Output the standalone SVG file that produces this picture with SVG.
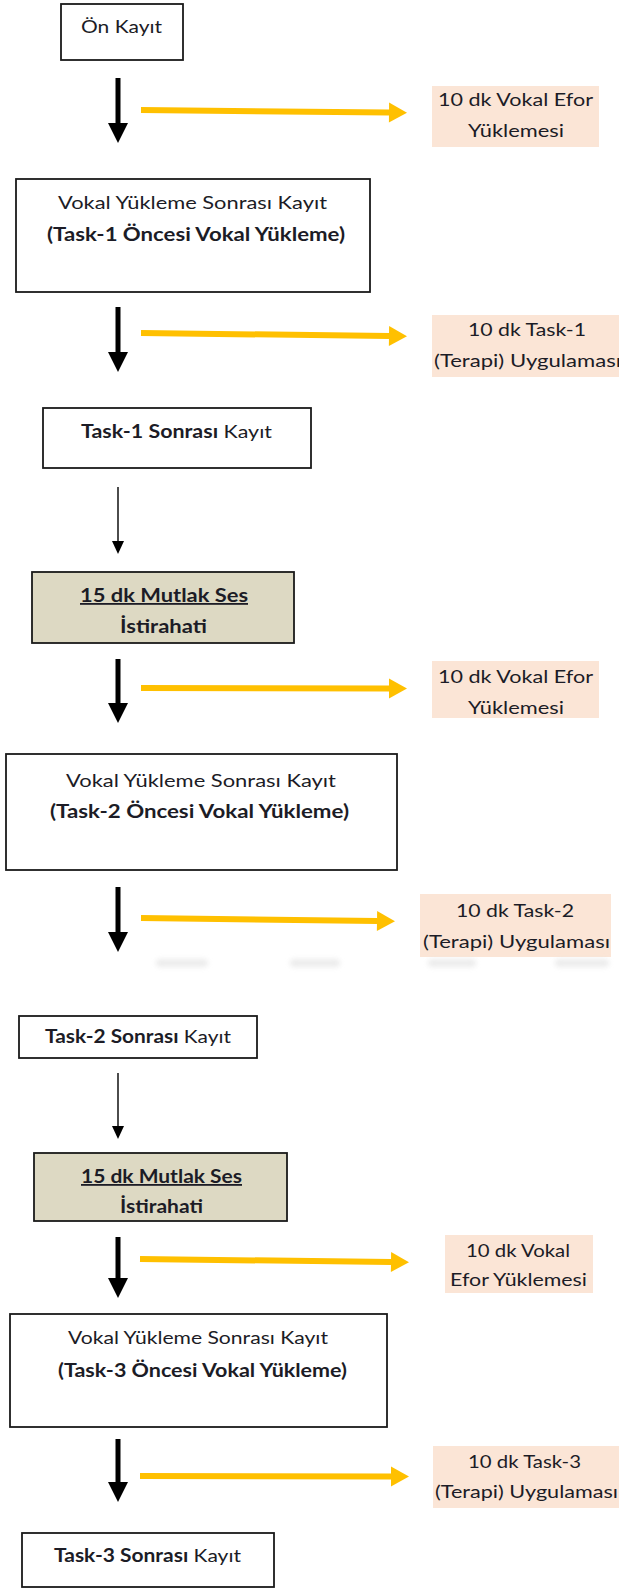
<svg xmlns="http://www.w3.org/2000/svg" width="619" height="1589" viewBox="0 0 619 1589">
<style>
  text { font-family: Lato, "Open Sans", "Liberation Sans", sans-serif; font-size: 18px; fill: #1c1c26; }
  .b { font-weight: bold; }
  .u { text-decoration: underline; }
  .box { fill: #ffffff; stroke: #1a1a1a; stroke-width: 1.8; }
  .rest { fill: #ddd9c3; stroke: #1a1a1a; stroke-width: 1.8; }
  .side { fill: #fbe5d6; stroke: none; }
  .thick { stroke: #000; stroke-width: 5; fill: none; marker-end: url(#hBig); }
  .thin { stroke: #000; stroke-width: 1.4; fill: none; marker-end: url(#hSmall); }
  .gold { stroke: #ffc000; stroke-width: 6; fill: none; marker-end: url(#hGold); }
  .smudge { fill: #e4e4e4; opacity: 0.7; filter: url(#soft); }
</style>
<defs>
  <marker id="hBig" markerUnits="userSpaceOnUse" markerWidth="20" markerHeight="20" refX="0" refY="10" orient="auto" overflow="visible">
    <path d="M0,0 L20,10 L0,20 z" fill="#000"/>
  </marker>
  <marker id="hSmall" markerUnits="userSpaceOnUse" markerWidth="13" markerHeight="12" refX="0" refY="6" orient="auto" overflow="visible">
    <path d="M0,0 L13,6 L0,12 z" fill="#000"/>
  </marker>
  <marker id="hGold" markerUnits="userSpaceOnUse" markerWidth="18" markerHeight="20" refX="0" refY="10" orient="auto" overflow="visible">
    <path d="M0,0 L18,10 L0,20 z" fill="#ffc000"/>
  </marker>
  <filter id="soft" x="-20%" y="-100%" width="140%" height="300%">
    <feGaussianBlur stdDeviation="2.5"/>
  </filter>
</defs>

<g id="connectors">
  <line class="thick" x1="118" y1="78" x2="118" y2="123"/>
  <line class="thick" x1="118" y1="307" x2="118" y2="352"/>
  <line class="thin" x1="118" y1="487" x2="118" y2="541"/>
  <line class="thick" x1="118" y1="659" x2="118" y2="703"/>
  <line class="thick" x1="118" y1="887" x2="118" y2="932"/>
  <line class="thin" x1="118" y1="1073" x2="118" y2="1126"/>
  <line class="thick" x1="118" y1="1237" x2="118" y2="1278"/>
  <line class="thick" x1="118" y1="1439" x2="118" y2="1482"/>

  <path class="gold" d="M141,110 L389,112.5"/>
  <path class="gold" d="M141,333 L389,336"/>
  <path class="gold" d="M141,688 L389,688.5"/>
  <path class="gold" d="M141,918 L377,921"/>
  <path class="gold" d="M140,1259 L391,1262"/>
  <path class="gold" d="M140,1476 L391,1476.5"/>
</g>

<g id="n1">
  <rect class="box" x="61" y="4" width="122" height="56"/>
  <text x="81" y="33" textLength="81" lengthAdjust="spacingAndGlyphs">Ön Kayıt</text>
</g>

<g id="s1">
  <rect class="side" x="432" y="86" width="167" height="61"/>
  <text x="438" y="106" textLength="155" lengthAdjust="spacingAndGlyphs">10 dk Vokal Efor</text>
  <text x="468" y="137" textLength="96" lengthAdjust="spacingAndGlyphs">Yüklemesi</text>
</g>

<g id="n2">
  <rect class="box" x="16" y="179" width="354" height="113"/>
  <text x="58" y="209" textLength="269" lengthAdjust="spacingAndGlyphs">Vokal Yükleme Sonrası Kayıt</text>
  <text class="b" x="47" y="241" textLength="298" lengthAdjust="spacingAndGlyphs">(Task-1 Öncesi Vokal Yükleme)</text>
</g>

<g id="s2">
  <rect class="side" x="432" y="315" width="190" height="62"/>
  <text x="468" y="336" textLength="118" lengthAdjust="spacingAndGlyphs">10 dk Task-1</text>
  <text x="434" y="367" textLength="187" lengthAdjust="spacingAndGlyphs">(Terapi) Uygulaması</text>
</g>

<g id="n3">
  <rect class="box" x="43" y="408" width="268" height="60"/>
  <text x="81" y="438" textLength="191" lengthAdjust="spacingAndGlyphs"><tspan class="b">Task-1 Sonrası</tspan> Kayıt</text>
</g>

<g id="n4">
  <rect class="rest" x="32" y="572" width="262" height="71"/>
  <text class="b u" x="80" y="602" textLength="168" lengthAdjust="spacingAndGlyphs">15 dk Mutlak Ses</text>
  <text class="b" x="120" y="633" textLength="87" lengthAdjust="spacingAndGlyphs">İstirahati</text>
</g>

<g id="s4">
  <rect class="side" x="432" y="661" width="167" height="57"/>
  <text x="438" y="683" textLength="155" lengthAdjust="spacingAndGlyphs">10 dk Vokal Efor</text>
  <text x="468" y="714" textLength="96" lengthAdjust="spacingAndGlyphs">Yüklemesi</text>
</g>

<g id="n5">
  <rect class="box" x="6" y="754" width="391" height="116"/>
  <text x="66" y="787" textLength="270" lengthAdjust="spacingAndGlyphs">Vokal Yükleme Sonrası Kayıt</text>
  <text class="b" x="50" y="818" textLength="299" lengthAdjust="spacingAndGlyphs">(Task-2 Öncesi Vokal Yükleme)</text>
</g>

<g id="s5">
  <rect class="side" x="420" y="894" width="191" height="63"/>
  <text x="456" y="917" textLength="118" lengthAdjust="spacingAndGlyphs">10 dk Task-2</text>
  <text x="423" y="948" textLength="187" lengthAdjust="spacingAndGlyphs">(Terapi) Uygulaması</text>
</g>

<g id="smudges">
  <rect class="smudge" x="156" y="959" width="52" height="8" rx="4"/>
  <rect class="smudge" x="290" y="959" width="50" height="8" rx="4"/>
  <rect class="smudge" x="428" y="959" width="48" height="8" rx="4"/>
  <rect class="smudge" x="555" y="959" width="54" height="8" rx="4"/>
</g>

<g id="n6">
  <rect class="box" x="19" y="1016" width="238" height="42"/>
  <text x="45" y="1043" textLength="186" lengthAdjust="spacingAndGlyphs"><tspan class="b">Task-2 Sonrası</tspan> Kayıt</text>
</g>

<g id="n7">
  <rect class="rest" x="34" y="1153" width="253" height="68"/>
  <text class="b u" x="81" y="1183" textLength="161" lengthAdjust="spacingAndGlyphs">15 dk Mutlak Ses</text>
  <text class="b" x="120" y="1213" textLength="83" lengthAdjust="spacingAndGlyphs">İstirahati</text>
</g>

<g id="s7">
  <rect class="side" x="445" y="1235" width="148" height="58"/>
  <text x="466" y="1257" textLength="104" lengthAdjust="spacingAndGlyphs">10 dk Vokal</text>
  <text x="450" y="1286" textLength="137" lengthAdjust="spacingAndGlyphs">Efor Yüklemesi</text>
</g>

<g id="n8">
  <rect class="box" x="10" y="1314" width="377" height="113"/>
  <text x="68" y="1344" textLength="260" lengthAdjust="spacingAndGlyphs">Vokal Yükleme Sonrası Kayıt</text>
  <text class="b" x="58" y="1377" textLength="289" lengthAdjust="spacingAndGlyphs">(Task-3 Öncesi Vokal Yükleme)</text>
</g>

<g id="s8">
  <rect class="side" x="433" y="1446" width="190" height="62"/>
  <text x="468" y="1468" textLength="113" lengthAdjust="spacingAndGlyphs">10 dk Task-3</text>
  <text x="435" y="1498" textLength="183" lengthAdjust="spacingAndGlyphs">(Terapi) Uygulaması</text>
</g>

<g id="n9">
  <rect class="box" x="22" y="1533" width="252" height="54"/>
  <text x="54" y="1562" textLength="187" lengthAdjust="spacingAndGlyphs"><tspan class="b">Task-3 Sonrası</tspan> Kayıt</text>
</g>
</svg>
